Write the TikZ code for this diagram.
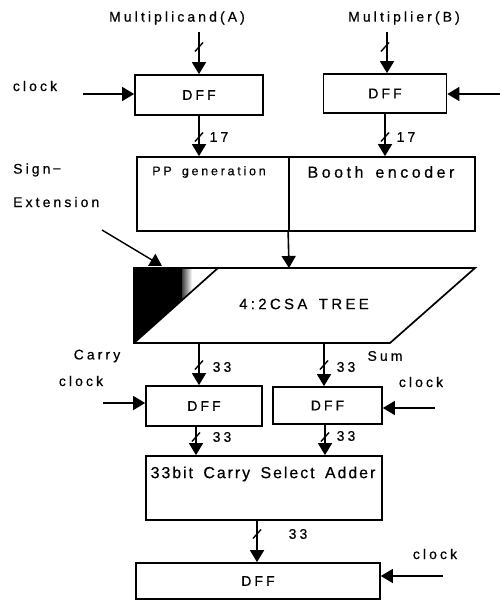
\documentclass[tikz,border=0pt]{standalone}
\usepackage{fontspec}
\setmainfont{Liberation Sans}
\newfontfamily\lblfont[LetterSpace=22,FakeBold=0.5]{Liberation Sans}
\newfontfamily\bigfont[LetterSpace=12,FakeBold=0.5]{Liberation Sans}
\newcommand\wsp{\ \hspace{4pt}}
\usetikzlibrary{arrows.meta,calc}
\tikzset{
 box/.style={draw, line width=1.7pt, inner sep=0, font=\lblfont\fontsize{14}{16}\selectfont},
 lab/.style={inner sep=0, font=\lblfont\fontsize{14}{16}\selectfont},
 arr/.style={line width=1.6pt, -{Triangle[length=12pt,width=14pt]}},
 slash/.style={line width=1.4pt},
}
\begin{document}
\begin{tikzpicture}[x=1pt,y=-1pt]
\useasboundingbox (0,0) rectangle (503,602);
% boxes
\node[box, minimum width=128pt, minimum height=40pt] (dffA) at (199,95) {DFF};
\node[box, minimum width=123pt, minimum height=39pt] (dffB) at (385,93.5) {DFF};
\node[box, minimum width=152pt, minimum height=74pt] (pp) at (213,194) {};
\node[box, minimum width=186pt, minimum height=74pt] (booth) at (382,194) {};
\node[box, minimum width=116pt, minimum height=40pt] (dffC) at (204,406) {DFF};
\node[box, minimum width=109pt, minimum height=37pt] (dffS) at (327.5,405.5) {DFF};
\node[box, minimum width=236pt, minimum height=64pt] (adder) at (264,488) {};
\node[box, minimum width=244pt, minimum height=36pt] (dffO) at (258,581) {DFF};
% CSA tree
\coordinate (csaTL) at (134,268);
\coordinate (csaTR) at (475,268);
\coordinate (csaBR) at (390,343);
\coordinate (csaBL) at (134,343);
\coordinate (csaTop) at (289,268);
\fill[black] (134,268) -- (182,268) -- (182,300) -- (134,343) -- cycle;
\shade[left color=black!75, right color=white] (182,268) -- (192,268) -- (192,291) -- (182,300) -- cycle;
\draw[line width=1.7pt, line join=miter] (csaTL) -- (csaTR) -- (csaBR) -- (csaBL) -- cycle;
\draw[line width=1.7pt] (csaBL) -- (218,268);
\node[inner sep=0, font=\lblfont\fontsize{15}{17}\selectfont] (csaText) at (304,304) {4:2CSA\wsp TREE};
% texts
\node[lab] (tA) at (177,18) {Multiplicand(A)};
\node[lab] (tB) at (404,18) {Multiplier(B)};
\node[lab] (clk1) at (35,86) {clock};
\node[lab, anchor=west] (sign) at (13,170) {Sign\,−};
\node[lab, anchor=west] (ext) at (13,202) {Extension};
\node[inner sep=0, font=\lblfont\fontsize{12.5}{14}\selectfont] (ppText) at (209,172) {PP\wsp generation};
\node[inner sep=0, font=\lblfont\fontsize{16}{18}\selectfont] (boothText) at (381,172) {Booth\wsp encoder};
\node[lab] (carry) at (97,356) {Carry};
\node[lab] (sum) at (385,356) {Sum};
\node[lab] (clk2) at (81,381) {clock};
\node[lab] (clk3) at (421,382) {clock};
\node[inner sep=0, font=\bigfont\fontsize{16}{18}\selectfont] (adderText) at (263,474) {33bit\wsp Carry\wsp Select\wsp Adder};
\node[lab] (clk4) at (435,554) {clock};
% bus width labels
\node[lab] (w1) at (219,137) {17};
\node[lab] (w2) at (406,137) {17};
\node[lab] (w3) at (222,367) {33};
\node[lab] (w4) at (346,367) {33};
\node[lab] (w5) at (222,437) {33};
\node[lab] (w6) at (346,436) {33};
\node[lab] (w7) at (298,534) {33};
% coordinates for connectors
\coordinate (inA) at (199,32);
\coordinate (inB) at (387,32);
\coordinate (ck1) at (83,94);
\coordinate (ck2) at (500,94);
\coordinate (seStart) at (102,230);
\coordinate (seTip) at (162,266);
\coordinate (csaCarry) at (199,343);
\coordinate (csaSum) at (324,343);
\coordinate (xc2) at (196,0);
\coordinate (xs2) at (325,0);
\coordinate (xo) at (257,0);
\coordinate (ck3) at (103,403);
\coordinate (ck4) at (435,408);
\coordinate (ck5) at (443,576);
% connectors
\draw[arr] (inA) -- (inA |- dffA.north);
\draw[arr] (inB) -- (inB |- dffB.north);
\draw[arr] (ck1) -- (ck1 -| dffA.west);
\draw[arr] (ck2) -- (ck2 -| dffB.east);
\draw[arr] (dffA.south) -- (dffA.south |- pp.north);
\draw[arr] (dffB.south) -- (dffB.south |- booth.north);
\draw[arr] (booth.south west) -- (csaTop);
\draw[arr, line width=1.4pt] (seStart) -- (seTip);
\draw[arr] (csaCarry) -- (csaCarry |- dffC.north);
\draw[arr] (csaSum) -- (csaSum |- dffS.north);
\draw[arr] (ck3) -- (ck3 -| dffC.west);
\draw[arr] (ck4) -- (ck4 -| dffS.east);
\draw[arr] (dffC.south -| xc2) -- (adder.north -| xc2);
\draw[arr] (dffS.south -| xs2) -- (adder.north -| xs2);
\draw[arr] (adder.south -| xo) -- (dffO.north -| xo);
\draw[arr] (ck5) -- (ck5 -| dffO.east);
% bus slashes
\foreach \p in {{199,47},{385,47},{199,137},{385,137},{199,365},{324,365},{196,437},{325,437},{257,534}}
  \draw[slash] ($(\p)+(-4,4.5)$) -- ($(\p)+(4,-4.5)$);
\end{tikzpicture}
\end{document}
